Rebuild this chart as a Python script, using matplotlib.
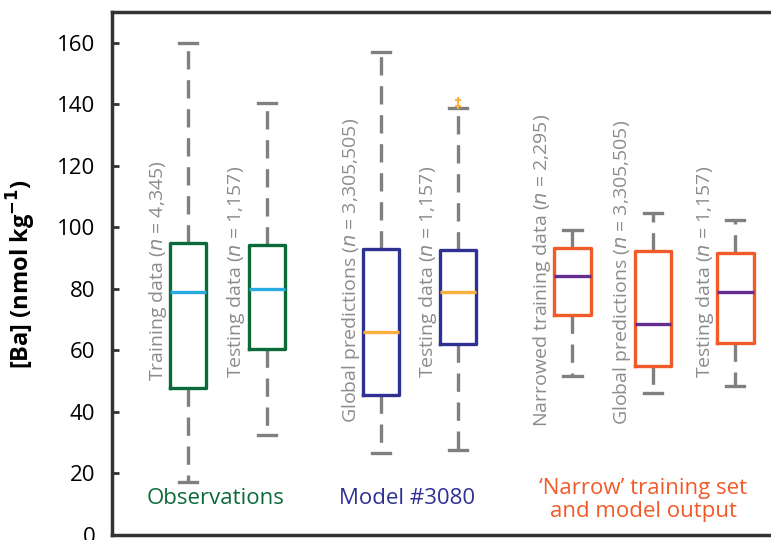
import matplotlib
matplotlib.use("Agg")
import matplotlib.pyplot as plt

plt.rcParams['font.family'] = ['Open Sans', 'DejaVu Sans']

# Data
labels = ["Training data ($n$ = 4,345)", "Testing data ($n$ = 1,157)",
          "Global predictions ($n$ = 3,305,505)", "Testing data ($n$ = 1,157)",
          "Narrowed training data ($n$ = 2,295)", "Global predictions ($n$ = 3,305,505)",
          "Testing data ($n$ = 1,157)"]
positions = [1, 2, 3.45, 4.43, 5.88, 6.9, 7.95]
whislo = [17.3, 32.5, 26.6, 27.6, 51.6, 46.2, 48.5]
q1 = [47.7, 60.5, 45.5, 62.0, 71.4, 54.8, 62.3]
med = [79.1, 80.0, 66.1, 79.1, 84.1, 68.6, 78.9]
q3 = [95.0, 94.3, 92.9, 92.7, 93.2, 92.4, 91.7]
whishi = [160.0, 140.4, 157.0, 138.8, 99.0, 104.8, 102.4]
fliers = [[], [], [], [139.5, 141.5], [], [], []]
label_start = [50, 51, 36.3, 51, 35.2, 35.8, 51]

box_colors = ["#0b6b38", "#0b6b38", "#2e3192", "#2e3192", "#f15a29", "#f15a29", "#f15a29"]
med_colors = ["#29abe2", "#29abe2", "#fbb040", "#fbb040", "#662d91", "#662d91", "#662d91"]

groups = ["Observations", "Model #3080", "\u2018Narrow\u2019 training set\nand model output"]
group_x = [1.35, 3.78, 6.78]
group_y = [12, 12, 11.4]
group_colors = ["#0b6b38", "#2e3192", "#f15a29"]

fig = plt.figure(figsize=(7.71, 5.40), dpi=100)
ax = fig.add_axes([112 / 771, 5 / 540, 1 - 112 / 771 + 0.01, (535 - 12) / 540])

stats = []
for i in range(len(positions)):
    stats.append(dict(med=med[i], q1=q1[i], q3=q3[i], whislo=whislo[i],
                      whishi=whishi[i], fliers=fliers[i]))

bp = ax.bxp(stats, positions=positions, widths=0.46, showfliers=True,
            patch_artist=False, manage_ticks=False)

gray = "#808080"
for i in range(len(positions)):
    bp['boxes'][i].set(color=box_colors[i], linewidth=2.4, zorder=3)
    bp['medians'][i].set(color=med_colors[i], linewidth=2.4, zorder=4)
    bp['fliers'][i].set(marker='+', markeredgecolor=med_colors[i], markersize=4,
                        markeredgewidth=1.5)
for w in bp['whiskers']:
    w.set(color=gray, linewidth=2.4, linestyle=(0, (5.5, 3.2)))
for c in bp['caps']:
    c.set(color=gray, linewidth=2.4)

for p, lab, y in zip(positions, labels, label_start):
    ax.text(p - 0.39, y, lab, rotation=90, ha='center', va='bottom',
            fontsize=14, color="#8c8c8c")

for x, y, g, c in zip(group_x, group_y, groups, group_colors):
    ax.text(x, y, g, ha='center', va='center', multialignment='center',
            fontsize=16, color=c, linespacing=1.1)

ax.set_ylim(0, 170)
ax.set_xlim(0.03, 8.5)
ax.set_yticks(range(0, 161, 20))
ax.set_xticks([])
ax.tick_params(axis='y', direction='in', length=5, width=2, labelsize=16,
               color="#333333", pad=12)
for s in ['left', 'bottom', 'top']:
    ax.spines[s].set_linewidth(2.5)
    ax.spines[s].set_color("#333333")
ax.spines['right'].set_visible(False)
ax.set_ylabel("[Ba] (nmol kg$^{\\mathbf{-1}}$)", fontsize=17, fontweight='bold',
              labelpad=14)

fig.savefig("out.png", dpi=100)
